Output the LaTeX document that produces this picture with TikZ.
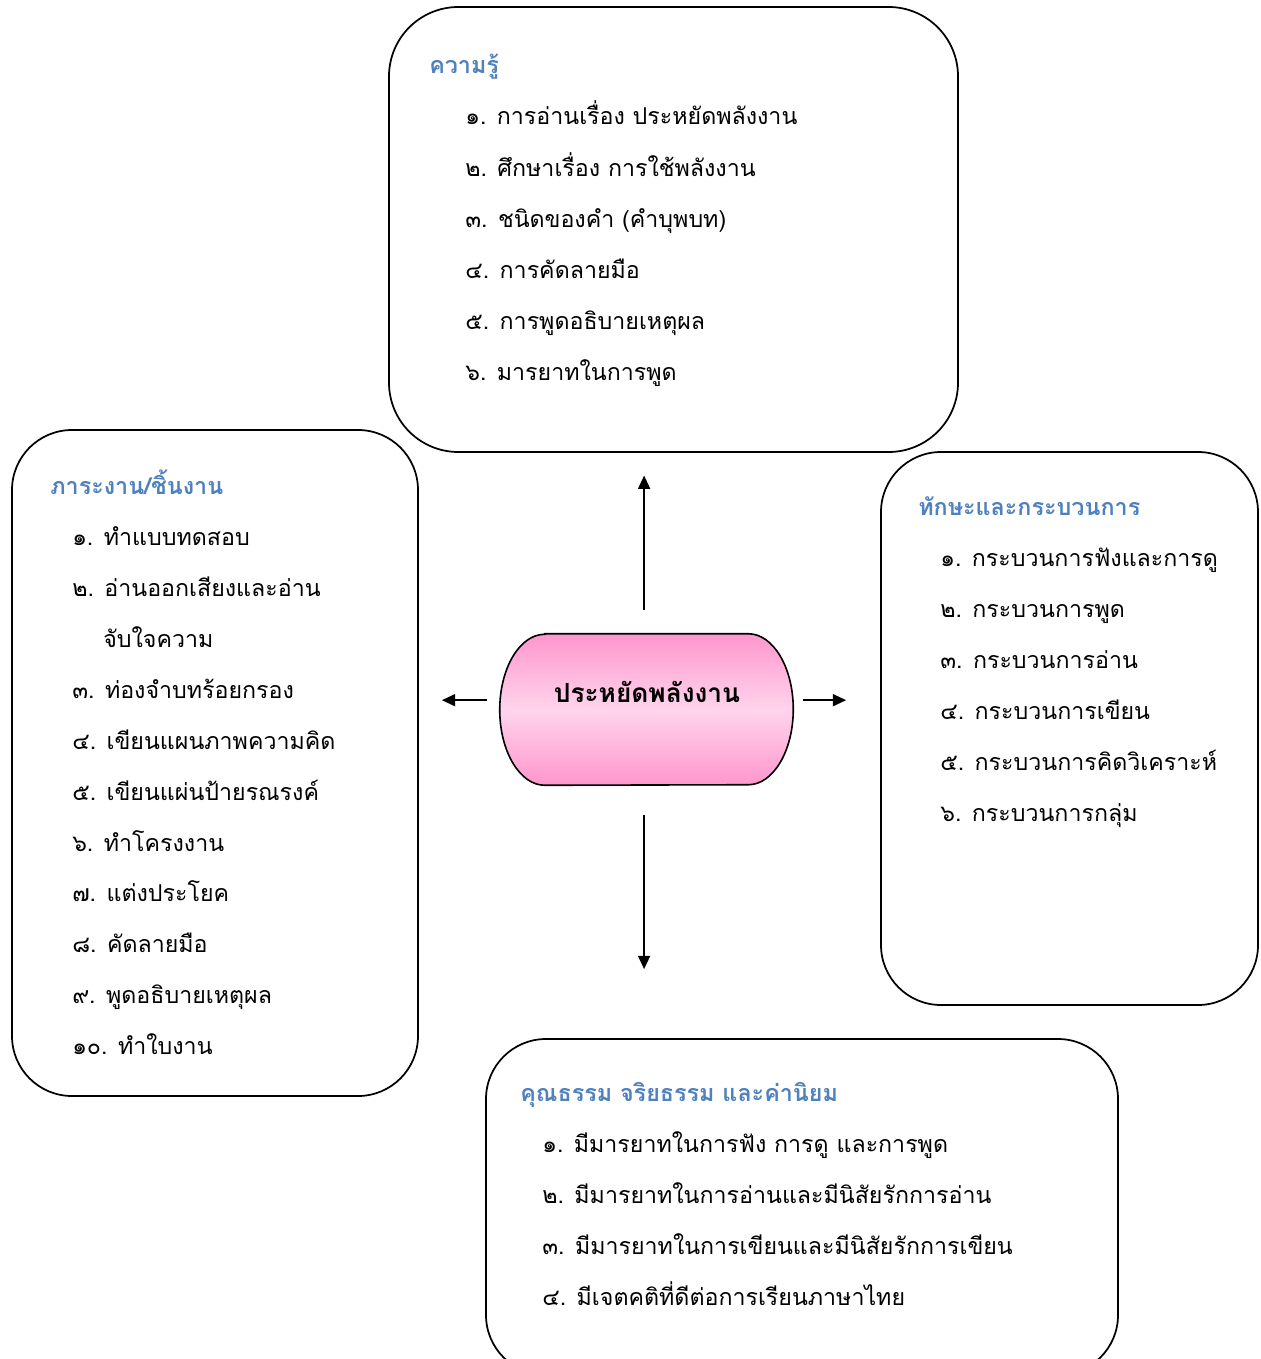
\documentclass[tikz,border=0pt]{standalone}
\usepackage{fontspec}
\newfontfamily\thaifont[Script=Thai]{Loma}
\usetikzlibrary{arrows.meta}

\definecolor{headblue}{RGB}{79,129,189}
\definecolor{pinkdark}{RGB}{255,150,205}
\definecolor{pinklight}{RGB}{255,212,236}

\begin{document}
\begin{tikzpicture}[x=0.75pt,y=-0.75pt,
  panel/.style={draw,line width=1.3pt,rounded corners=45pt,inner sep=0pt},
  head/.style={anchor=base west,inner sep=0pt,text=headblue,font=\thaifont\fontsize{17.5}{20}\selectfont\bfseries},
  item/.style={anchor=base west,inner sep=0pt,font=\thaifont\fontsize{17.4}{20}\selectfont},
  link/.style={line width=1.3pt,-{Triangle[length=10pt,width=9pt]}}]

\useasboundingbox (0,0) rectangle (1260,1359);

% boxes
\node[panel,rounded corners=52pt,minimum width=426.75pt,minimum height=333.75pt] (know) at (673.5,229.5) {};
\node[panel,minimum width=304.5pt,minimum height=499.5pt] (task) at (215,763) {};
\node[panel,minimum width=282.75pt,minimum height=414.75pt] (skill) at (1069.5,728.5) {};
\node[panel,minimum width=474pt,minimum height=252pt] (moral) at (802,1207) {};

% centre
\node[minimum width=219.75pt,minimum height=113.25pt,inner sep=0pt] (hub) at (646.5,709.5) {};
\draw[line width=1.2pt,top color=pinkdark,bottom color=pinkdark,middle color=pinklight]
  ([xshift=33.75pt]hub.north west) -- ([xshift=-33.75pt]hub.north east)
  arc[start angle=90,end angle=-90,x radius=33.75pt,y radius=56.625pt]
  -- ([xshift=33.75pt]hub.south west)
  arc[start angle=270,end angle=90,x radius=33.75pt,y radius=56.625pt] -- cycle;
\node[anchor=base,inner sep=0pt,font=\thaifont\fontsize{19.7}{22}\selectfont\bfseries] (hubtext) at (647,702) {ประหยัดพลังงาน};

% arrows
\draw[link,shorten <=18pt,shorten >=17pt] ([xshift=-1.8pt]hub.north) -- ([xshift=-1.8pt]hub.north |- know.south);
\draw[link,shorten <=9.75pt,shorten >=17.25pt] ([yshift=7pt]hub.west) -- ([yshift=7pt]hub.west -| task.east);
\draw[link,shorten <=7.5pt,shorten >=25.5pt] ([yshift=7pt]hub.east) -- ([yshift=7pt]hub.east -| skill.west);
\draw[link,shorten <=22.5pt,shorten >=51.75pt] ([xshift=-1.8pt]hub.south) -- ([xshift=-1.8pt]hub.south |- moral.north);

% ความรู้
\node[head] (k0) at (429,74) {ความรู้};
\node[item] (k1) at (465,125) {๑. การอ่านเรื่อง ประหยัดพลังงาน};
\node[item] (k2) at (465,176) {๒. ศึกษาเรื่อง การใช้พลังงาน};
\node[item] (k3) at (465,227) {๓. ชนิดของคำ (คำบุพบท)};
\node[item] (k4) at (465,278) {๔. การคัดลายมือ};
\node[item] (k5) at (465,329) {๕. การพูดอธิบายเหตุผล};
\node[item] (k6) at (465,380) {๖. มารยาทในการพูด};

% ภาระงาน/ชิ้นงาน
\node[head] (t0) at (50,494) {ภาระงาน/ชิ้นงาน};
\node[item] (t1) at (72,545) {๑. ทำแบบทดสอบ};
\node[item] (t2) at (72,596) {๒. อ่านออกเสียงและอ่าน};
\node[item] (t2b) at (103,647) {จับใจความ};
\node[item] (t3) at (72,698) {๓. ท่องจำบทร้อยกรอง};
\node[item] (t4) at (72,749) {๔. เขียนแผนภาพความคิด};
\node[item] (t5) at (72,800) {๕. เขียนแผ่นป้ายรณรงค์};
\node[item] (t6) at (72,851) {๖. ทำโครงงาน};
\node[item] (t7) at (72,901) {๗. แต่งประโยค};
\node[item] (t8) at (72,952) {๘. คัดลายมือ};
\node[item] (t9) at (72,1003) {๙. พูดอธิบายเหตุผล};
\node[item] (t10) at (72,1054) {๑๐. ทำใบงาน};

% ทักษะและกระบวนการ
\node[head] (s0) at (918,515) {ทักษะและกระบวนการ};
\node[item] (s1) at (940,566) {๑. กระบวนการฟังและการดู};
\node[item] (s2) at (940,617) {๒. กระบวนการพูด};
\node[item] (s3) at (940,668) {๓. กระบวนการอ่าน};
\node[item] (s4) at (940,719) {๔. กระบวนการเขียน};
\node[item] (s5) at (940,770) {๕. กระบวนการคิดวิเคราะห์};
\node[item] (s6) at (940,821) {๖. กระบวนการกลุ่ม};

% คุณธรรม
\node[head] (m0) at (520,1101) {คุณธรรม จริยธรรม และค่านิยม};
\node[item] (m1) at (542,1152) {๑. มีมารยาทในการฟัง การดู และการพูด};
\node[item] (m2) at (542,1203) {๒. มีมารยาทในการอ่านและมีนิสัยรักการอ่าน};
\node[item] (m3) at (542,1254) {๓. มีมารยาทในการเขียนและมีนิสัยรักการเขียน};
\node[item] (m4) at (542,1305) {๔. มีเจตคติที่ดีต่อการเรียนภาษาไทย};
\end{tikzpicture}
\end{document}
